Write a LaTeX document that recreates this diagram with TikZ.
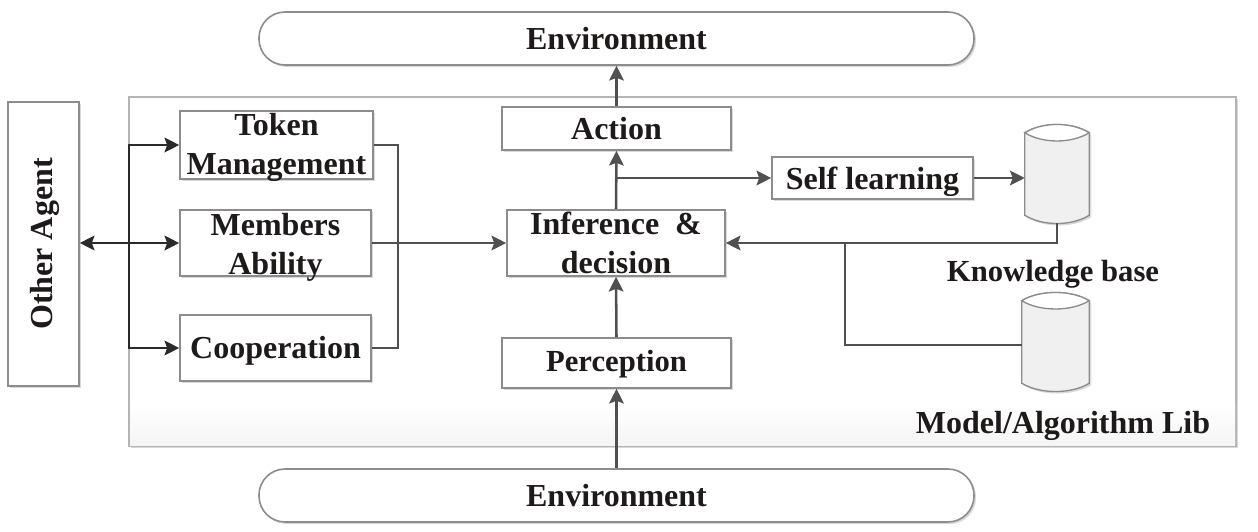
\documentclass[tikz,border=0pt]{standalone}
\usepackage{fontspec}
\setmainfont{Liberation Serif}
\usetikzlibrary{arrows.meta,shadows,calc}
\definecolor{boxline}{HTML}{8C8C8C}
\definecolor{wire}{HTML}{505050}
\definecolor{darkwire}{HTML}{2A2A2A}
\definecolor{txt}{HTML}{1E1A1A}
\definecolor{cylfill}{HTML}{F0F0F0}
\def\px{0.75pt}
\newcommand{\tp}[1]{\rule{0pt}{#1pt}}
\newcommand{\lastline}[2]{\smash{#2}\rule[-#1pt]{0pt}{#1pt}}
\tikzset{
  x=0.75pt,y=-0.75pt,
  softshadow/.style={drop shadow={shadow xshift=1.5pt,shadow yshift=-1.5pt,opacity=0.15,fill=black}},
  lbl/.style={font=\fontsize{24}{29.25}\selectfont\bfseries,text=txt,align=center,inner sep=0pt},
  smalllbl/.style={lbl,font=\fontsize{23}{28}\selectfont\bfseries},
  stepbox/.style={lbl,draw=boxline,line width=1.2pt,fill=white,softshadow,minimum width=#1*\px},
  envbox/.style={lbl,draw=boxline,line width=1.2pt,fill=white,softshadow,rounded corners=26*\px,minimum width=715*\px,minimum height=53*\px},
  cylbox/.style={inner sep=0pt,minimum width=#1*\px,minimum height=98*\px},
  wireline/.style={draw=wire,line width=1.9pt,-{Stealth[length=11pt,width=11pt,inset=2pt]}},
  plainwire/.style={draw=wire,line width=1.9pt},
  darkline/.style={draw=darkwire,line width=1.9pt,-{Stealth[length=11pt,width=11pt,inset=2pt]}},
  darkboth/.style={draw=darkwire,line width=1.9pt,{Stealth[length=11pt,width=11pt,inset=2pt]}-{Stealth[length=11pt,width=11pt,inset=2pt]}},
}
\newcommand{\drawcyl}[1]{%
  \path[draw=boxline,line width=1pt,fill=cylfill,softshadow]
    ($(#1.north west)+(0,8)$) .. controls ($(#1.north west)+(18,-3)$) and ($(#1.north east)+(-18,-3)$) .. ($(#1.north east)+(0,8)$)
    -- ($(#1.south east)+(0,-8)$) .. controls ($(#1.south east)+(-18,3)$) and ($(#1.south west)+(18,3)$) .. ($(#1.south west)+(0,-8)$) -- cycle;
  \path[draw=boxline,line width=1pt,fill=white]
    ($(#1.north west)+(0,8)$) .. controls ($(#1.north west)+(18,-3)$) and ($(#1.north east)+(-18,-3)$) .. ($(#1.north east)+(0,8)$)
    .. controls ($(#1.north east)+(-18,19)$) and ($(#1.north west)+(18,19)$) .. ($(#1.north west)+(0,8)$) -- cycle;
}
\begin{document}
\begin{tikzpicture}
\useasboundingbox (0,0) rectangle (1258,532);
\fill[white] (0,0) rectangle (1258,532);
% main agent panel
\path[draw=boxline!65,line width=1pt,fill=white,softshadow] (129,97) rectangle (1236,446);
\shade[top color=white,bottom color=cylfill!70,draw=none] (130,405) rectangle (1235,445);
% environment
\node[envbox] (envtop) at (616.5,38.5) {Environment};
\node[envbox] (envbot) at (616.5,495.5) {Environment};
% other agent
\node[lbl,draw=boxline,line width=1.2pt,fill=white,softshadow,minimum width=284*\px,minimum height=71*\px,rotate=90] (other) at (43.5,244) {\tp{18.5}Other Agent};
% left boxes
\node[stepbox=193,minimum height=68*\px] (token) at (276.5,145) {\tp{18.2}Token\\\lastline{3.4}{Management}};
\node[stepbox=191,minimum height=66*\px] (members) at (275.5,243) {\tp{18.7}Members\\\lastline{1.4}{Ability}};
\node[stepbox=191,minimum height=66*\px] (coop) at (275.5,348) {\tp{21}Cooperation};
% centre boxes
\node[stepbox=229,minimum height=43*\px] (action) at (616.5,128.5) {Action};
\node[stepbox=218,minimum height=66*\px] (infer) at (616,243) {Inference~~\&\\decision};
\node[stepbox=229,minimum height=50*\px,smalllbl] (percep) at (616.5,363) {\tp{17.5}Perception};
\node[stepbox=201,minimum height=42*\px] (self) at (872.5,178) {\tp{22.5}Self learning};
% cylinders
\node[cylbox=64] (kb) at (1057,174) {};
\node[cylbox=67] (lib) at (1055.5,342) {};
\drawcyl{kb}
\drawcyl{lib}
\node[smalllbl] (kblabel) at (1053,274) {Knowledge base};
\node[lbl] (liblabel) at (1063,426) {Model/Algorithm Lib};
% junctions
\coordinate (upj) at (action.south |- self.west);
\coordinate (leftbus) at (129,243);
\coordinate (rightbus) at (398,243);
\coordinate (kbj) at (845,243);
\coordinate (libport) at ($(lib.west)+(0,3)$);
% left bus
\draw[darkboth] (other.south |- leftbus) -- (members.west);
\draw[darkline] (leftbus) |- (token.west);
\draw[darkline] (leftbus) |- (coop.west);
% right bus
\draw[plainwire] (token.east) -| (rightbus);
\draw[plainwire] (coop.east) -| (rightbus);
\draw[wireline] (members.east) -- (infer.west);
% centre column
\draw[wireline] (envbot.north -| percep.south) -- (percep.south);
\draw[wireline] (percep.north) -- (infer.south);
\draw[wireline] (infer.north) -- (action.south);
\draw[wireline] (action.north) -- (envtop.south);
\draw[wireline] (upj) -- (self.west);
\draw[wireline] (self.east) -- (self.east -| kb.west);
% knowledge
\draw[wireline] (kb.south) |- (infer.east);
\draw[plainwire] (libport) -| (kbj);
\end{tikzpicture}
\end{document}
